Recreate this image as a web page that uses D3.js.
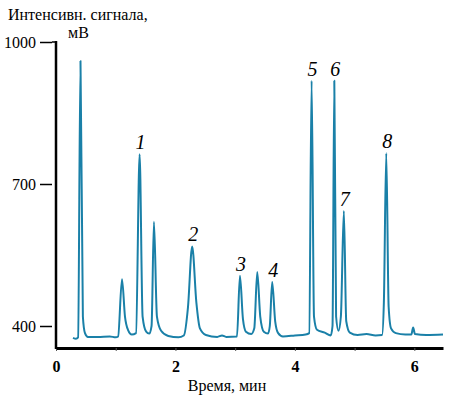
<!DOCTYPE html>
<html>
<head>
<meta charset="utf-8">
<script src="https://cdn.jsdelivr.net/npm/d3@7"></script>
<style>
  body { margin: 0; background: #fff; }
  svg { display: block; }
  svg text { font-family: "Liberation Serif", "Times New Roman", serif; }
</style>
</head>
<body>
<svg id="chart" width="450" height="398"></svg>
<script>
// chromatogram trace (time in min, signal in mV)
const time = [0.285, 0.335, 0.37, 0.41, 0.45, 0.485, 0.535, 0.7, 0.9, 1.0,
  1.04, 1.105, 1.155, 1.205, 1.27,
  1.34, 1.40, 1.45, 1.51, 1.56,
  1.60, 1.64, 1.69, 1.76, 1.88, 2.05,
  2.14, 2.21, 2.28, 2.35, 2.41, 2.51, 2.7, 2.78, 2.85,
  3.03, 3.08, 3.13, 3.18, 3.27,
  3.32, 3.37, 3.42, 3.48, 3.55,
  3.58, 3.62, 3.67, 3.72, 3.80, 4.0, 4.18,
  4.24, 4.28, 4.32, 4.37, 4.50, 4.60,
  4.63, 4.66, 4.69, 4.73,
  4.77, 4.82, 4.86, 4.92, 5.05, 5.2, 5.35,
  5.46, 5.49, 5.53, 5.57, 5.61, 5.69, 5.85,
  5.95, 5.98, 6.01, 6.2, 6.48];
const signal = [375, 373, 376, 960, 420, 385, 377, 377, 378, 376,
  378, 499, 420, 392, 382,
  385, 763, 420, 388, 384,
  400, 620, 420, 390, 379, 376,
  380, 440, 568, 450, 395, 381, 377, 380, 377,
  378, 506, 415, 388, 383,
  395, 514, 420, 388, 384,
  400, 493, 410, 385, 378, 380, 382,
  385, 918, 420, 392, 386, 380,
  400, 918, 420, 390,
  420, 643, 410, 386, 381, 383, 380,
  381, 450, 765, 440, 395, 385, 382,
  382, 397, 383, 381, 382];

// numbered peaks
const peakNames = ["1", "2", "3", "4", "5", "6", "7", "8"];
const peakTimes = [1.40, 2.28, 3.08, 3.62, 4.28, 4.66, 4.82, 5.53];
const peakHeights = [763, 568, 506, 493, 918, 918, 643, 765];

// axis ticks
const yTicks = [400, 700, 1000];
const xTicks = [0, 1, 2, 3, 4, 5, 6];
const xTickLabels = ["0", "", "2", "", "4", "", "6"];

const yTitle = ["Интенсивн. сигнала,", "мВ"];
const xTitle = "Время, мин";

const serif = "Liberation Serif, Times New Roman, serif";

const svg = d3.select("#chart");

const x = d3.scaleLinear().domain([0, 6.48]).range([56, 443]);
const y = d3.scaleLinear().domain([400, 1000]).range([326, 42]);

// x axis
const xAxis = d3.axisBottom(x)
  .tickValues(xTicks)
  .tickSizeInner(3)
  .tickSizeOuter(0)
  .tickPadding(10)
  .tickFormat((d, i) => xTickLabels[i]);

const gx = svg.append("g")
  .attr("transform", "translate(0,348)")
  .call(xAxis)
  .attr("font-family", serif)
  .attr("font-size", 16);
gx.select(".domain").attr("stroke", "#000").attr("stroke-width", 3);
gx.selectAll(".tick line").attr("stroke", "#555").attr("stroke-width", 1);
gx.selectAll(".tick text")
  .attr("fill", "#000")
  .attr("font-weight", "bold");

// y axis: detached dashes + vertical line
const yAxis = d3.axisLeft(y)
  .tickValues(yTicks)
  .tickFormat(d3.format("d"))
  .tickSizeInner(12)
  .tickSizeOuter(0)
  .tickPadding(4);

const gy = svg.append("g")
  .attr("transform", "translate(52,0)")
  .call(yAxis)
  .attr("font-family", serif)
  .attr("font-size", 16);
gy.select(".domain").remove();
gy.selectAll(".tick line").attr("stroke", "#000").attr("stroke-width", 1.5);
gy.selectAll(".tick text").attr("fill", "#000");

svg.append("line")
  .attr("x1", x(0)).attr("x2", x(0))
  .attr("y1", y(1000) - 1).attr("y2", 349)
  .attr("stroke", "#000")
  .attr("stroke-width", 2.5);
// little hook joining the top dash to the axis
svg.append("line")
  .attr("x1", 52).attr("x2", x(0))
  .attr("y1", y(1000)).attr("y2", y(1000))
  .attr("stroke", "#000")
  .attr("stroke-width", 1.5);

// axis titles
svg.append("text")
  .attr("x", 8).attr("y", 20)
  .attr("font-family", serif)
  .attr("font-size", 16)
  .text(yTitle[0]);
svg.append("text")
  .attr("x", 68).attr("y", 38)
  .attr("font-family", serif)
  .attr("font-size", 16)
  .text(yTitle[1]);

svg.append("text")
  .attr("x", 227).attr("y", 391)
  .attr("text-anchor", "middle")
  .attr("font-family", serif)
  .attr("font-size", 16)
  .text(xTitle);

// the trace
const trace = time.map((t, i) => ({ t: t, v: signal[i] }));
const line = d3.line()
  .x(d => x(d.t))
  .y(d => y(d.v))
  .curve(d3.curveMonotoneX);

svg.append("path")
  .attr("d", line(trace))
  .attr("fill", "none")
  .attr("stroke", "#1a80a8")
  .attr("stroke-width", 2)
  .attr("stroke-linejoin", "round");

// peak numbers
svg.selectAll(".peakLabel")
  .data(peakNames)
  .enter()
  .append("text")
  .attr("class", "peakLabel")
  .attr("x", (d, i) => x(peakTimes[i]) + 1)
  .attr("y", (d, i) => y(peakHeights[i]) - 5)
  .attr("text-anchor", "middle")
  .attr("font-family", serif)
  .attr("font-size", 20)
  .attr("font-style", "italic")
  .text(d => d);
</script>
</body>
</html>
